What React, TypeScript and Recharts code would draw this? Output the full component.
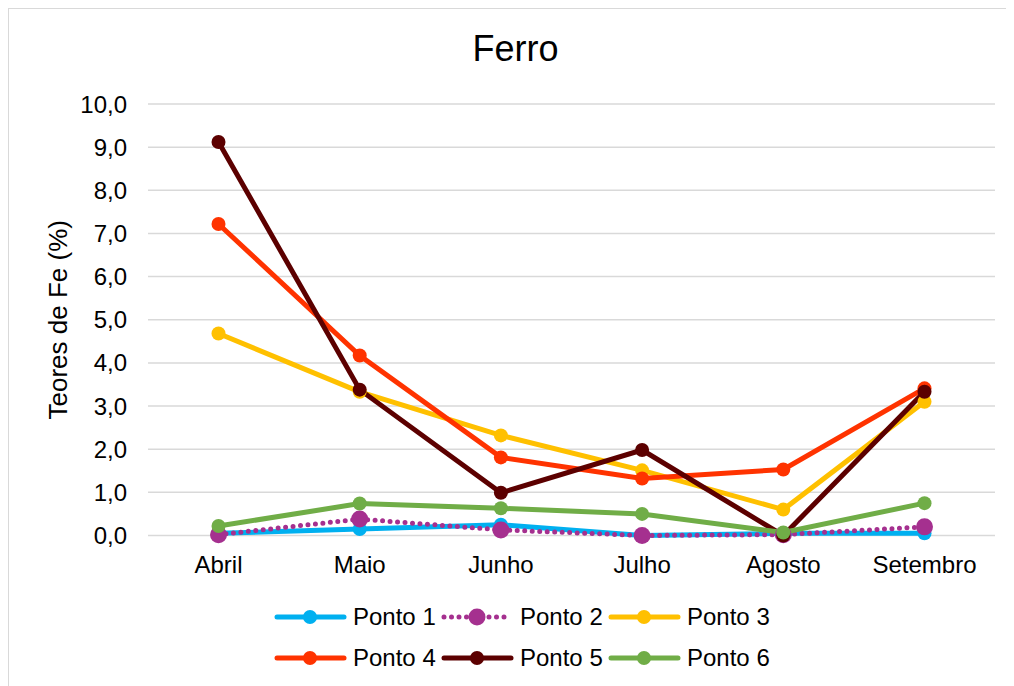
import { LineChart, Line, XAxis, YAxis, CartesianGrid, Legend } from 'recharts';

const months = ['Abril', 'Maio', 'Junho', 'Julho', 'Agosto', 'Setembro'];
const ponto1 = [0.05, 0.15, 0.25, 0.0, 0.05, 0.05];
const ponto2 = [0.02, 0.38, 0.13, 0.0, 0.02, 0.2];
const ponto3 = [4.68, 3.33, 2.32, 1.51, 0.6, 3.1];
const ponto4 = [7.22, 4.17, 1.81, 1.32, 1.53, 3.41];
const ponto5 = [9.12, 3.38, 0.99, 1.98, 0.0, 3.33];
const ponto6 = [0.22, 0.74, 0.63, 0.5, 0.07, 0.75];
const yTicks = [0, 1, 2, 3, 4, 5, 6, 7, 8, 9, 10];

const series = [
  { key: 'Ponto 1', values: ponto1, color: '#00b0f0', dash: undefined, r: 7 },
  { key: 'Ponto 2', values: ponto2, color: '#a5308f', dash: '0 7.5', r: 8.5 },
  { key: 'Ponto 3', values: ponto3, color: '#ffc000', dash: undefined, r: 7 },
  { key: 'Ponto 4', values: ponto4, color: '#ff3300', dash: undefined, r: 7 },
  { key: 'Ponto 5', values: ponto5, color: '#5c0000', dash: undefined, r: 7 },
  { key: 'Ponto 6', values: ponto6, color: '#70ad47', dash: undefined, r: 7 },
];

const data = months.map((m, i) => {
  const row: Record<string, string | number> = { month: m };
  series.forEach((s) => {
    row[s.key] = s.values[i];
  });
  return row;
});

const fmt = (v: number) => v.toFixed(1).replace('.', ',');

const FONT = '"Liberation Sans", Arial, sans-serif';

function LegendBox() {
  return (
    <div style={{ display: 'flex', flexWrap: 'wrap', width: 501, marginLeft: 265 }}>
      {series.map((s) => (
        <div key={s.key} style={{ width: 167, height: 41, display: 'flex', alignItems: 'center' }}>
          <svg width={74} height={24} style={{ display: 'block' }}>
            <line
              x1={3} y1={12} x2={70} y2={12}
              stroke={s.color}
              strokeWidth={5}
              strokeLinecap="round"
              strokeDasharray={s.dash}
            />
            <circle cx={36} cy={12} r={s.r} fill={s.color} />
          </svg>
          <span style={{ fontSize: 24, color: '#000', marginLeft: 5, lineHeight: '24px' }}>{s.key}</span>
        </div>
      ))}
    </div>
  );
}

export default function App() {
  return (
    <div
      style={{
        position: 'relative',
        width: 1006,
        height: 678,
        boxSizing: 'border-box',
        borderTop: '1px solid #d9d9d9',
        borderLeft: '1px solid #d9d9d9',
        background: '#fff',
        fontFamily: FONT,
      }}
    >
      <div
        style={{
          position: 'absolute',
          left: 0,
          width: 1013,
          top: 20,
          textAlign: 'center',
          fontSize: 36,
          color: '#000',
          lineHeight: '40px',
        }}
      >
        Ferro
      </div>
      <LineChart
        width={1005}
        height={677}
        data={data}
        margin={{ top: 95, right: 19, left: 0, bottom: 100.5 }}
      >
        <CartesianGrid vertical={false} stroke="#d9d9d9" strokeWidth={1.5} />
        <XAxis
          dataKey="month"
          axisLine={false}
          tickLine={false}
          height={50}
          tickMargin={14}
          padding={{ left: 70.5, right: 70.5 }}
          tick={{ fill: '#000', fontSize: 24, fontFamily: FONT }}
        />
        <YAxis
          domain={[0, 10]}
          ticks={yTicks}
          width={139}
          axisLine={false}
          tickLine={false}
          tickMargin={15}
          tickFormatter={fmt}
          tick={{ fill: '#000', fontSize: 24, fontFamily: FONT }}
          label={{
            value: 'Teores de Fe (%)',
            angle: -90,
            position: 'center',
            dx: -21,
            style: { fontSize: 26, fill: '#000', fontFamily: FONT, textAnchor: 'middle' },
          }}
        />
        <Legend
          layout="horizontal"
          verticalAlign="middle"
          align="center"
          wrapperStyle={{ top: 587, left: 0, width: 1005 }}
          content={() => <LegendBox />}
        />
        {series.map((s) => (
          <Line
            key={s.key}
            dataKey={s.key}
            type="linear"
            stroke={s.color}
            strokeWidth={5}
            strokeDasharray={s.dash}
            strokeLinecap="round"
            dot={{ r: s.r, fill: s.color, stroke: s.color, strokeWidth: 0, strokeDasharray: '' }}
            activeDot={false}
            isAnimationActive={false}
          />
        ))}
      </LineChart>
    </div>
  );
}
